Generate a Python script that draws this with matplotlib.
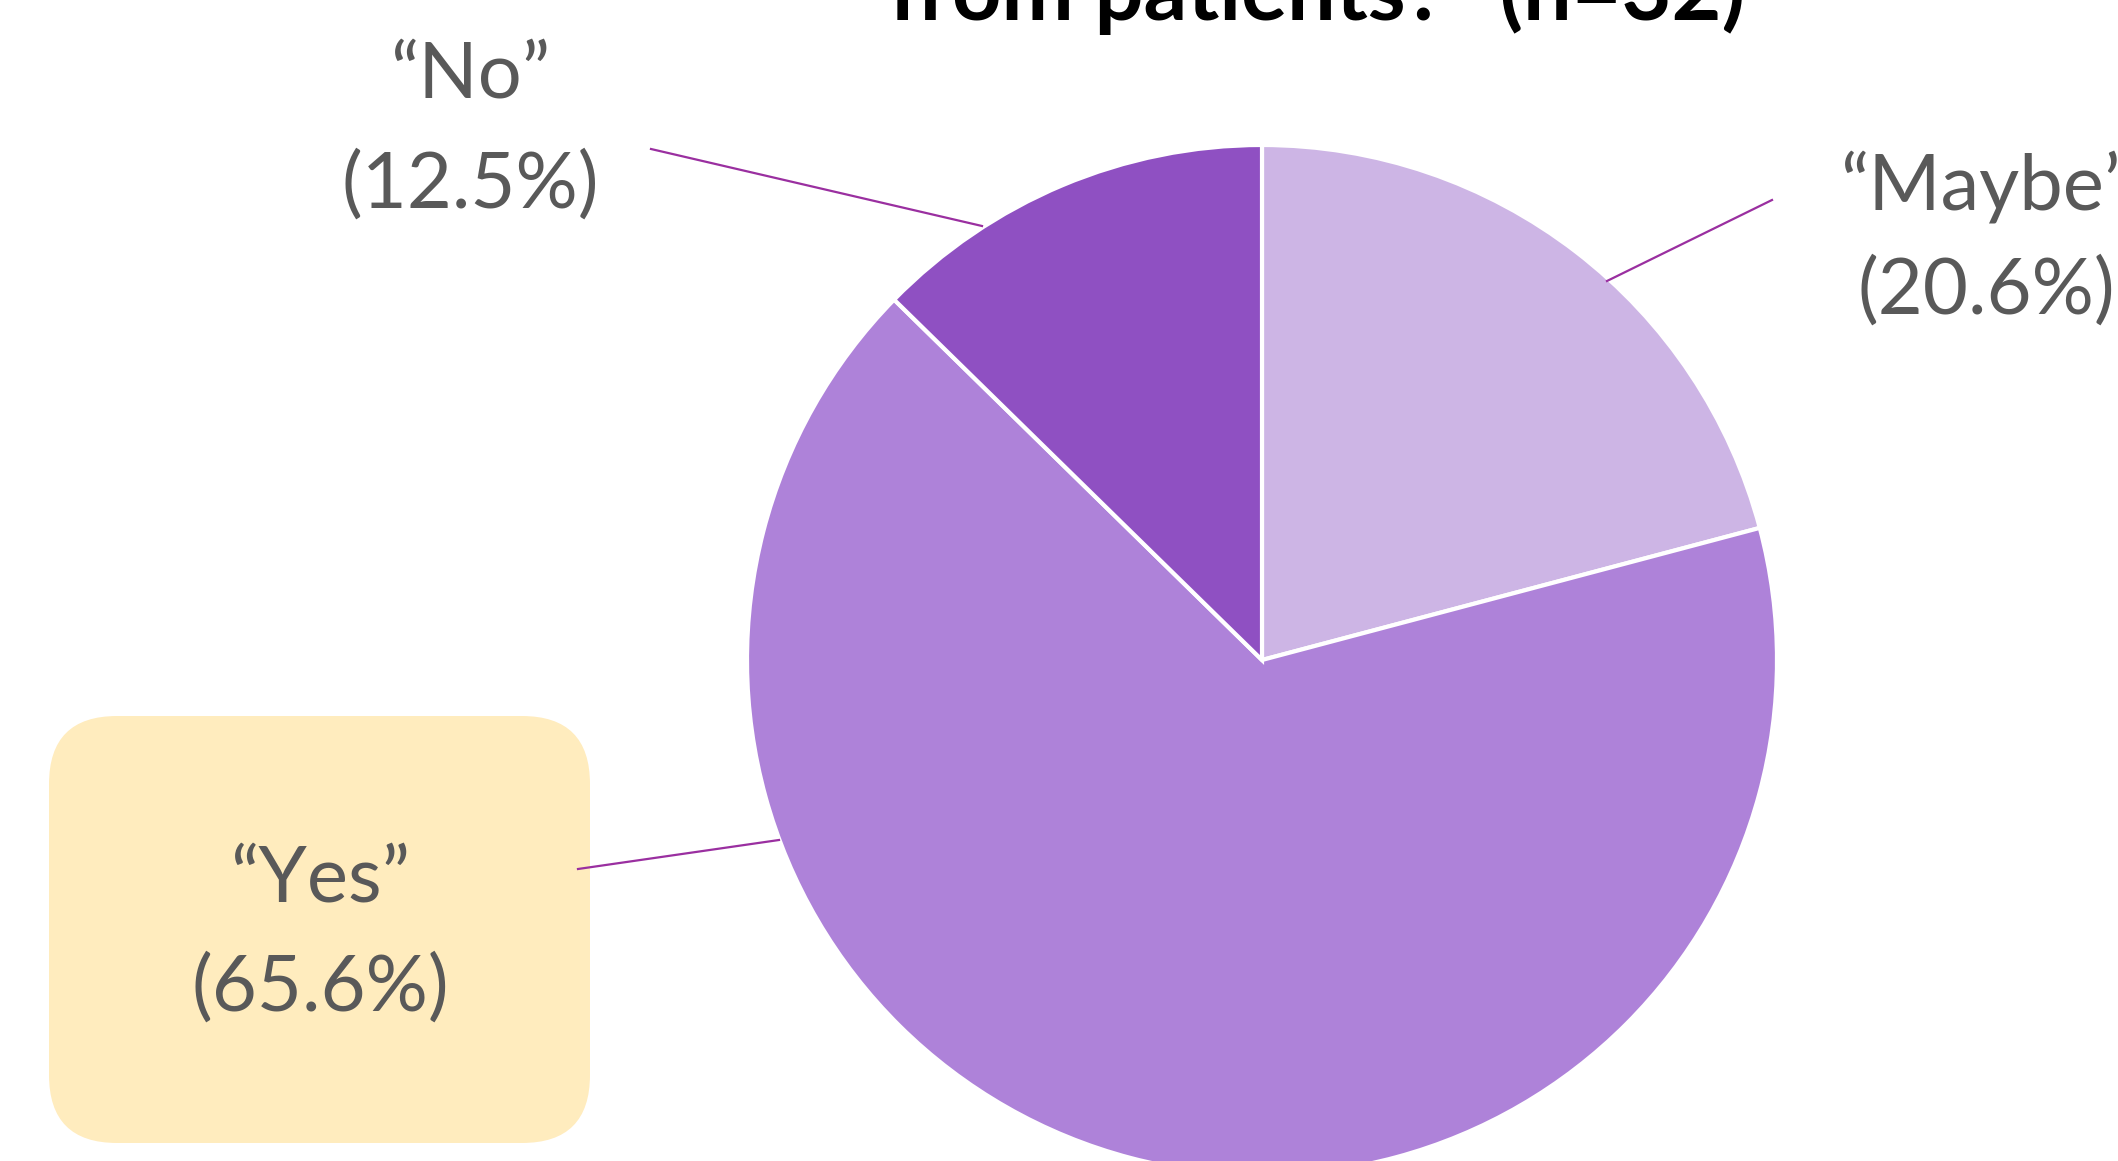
import matplotlib
matplotlib.use("Agg")
import matplotlib.pyplot as plt
from matplotlib.patches import FancyBboxPatch

# data
categories = ["Maybe", "Yes", "No"]
percents = [20.6, 65.6, 12.5]
colors = ["#CDB5E5", "#AE82D9", "#8F50C2"]
title = "from patients?\u201d (n=32)"

W, H = 2118, 1161
fig = plt.figure(figsize=(W / 100, H / 100), dpi=100)
ax = fig.add_axes([0, 0, 1, 1])

# pie, slices start at 12 o'clock and go clockwise
ax.pie(percents, colors=colors, startangle=90, counterclock=False,
       center=(1262, H - 660), radius=515,
       wedgeprops=dict(edgecolor="white", linewidth=3))

ax.set_xlim(0, W)
ax.set_ylim(0, H)
ax.set_aspect("equal")
ax.axis("off")

# label placement (pixel coords from top-left): name line, pct line, leader line
label_pos = {
    "Maybe": dict(x=1986, y1=187, y2=292, line=((1772, 200), (1607, 281))),
    "Yes": dict(x=320, y1=880, y2=989, line=((578, 869), (779, 840))),
    "No": dict(x=470, y1=76, y2=186, line=((651, 149), (982, 226))),
}

# yellow rounded box behind the "Yes" label
box = FancyBboxPatch((49, H - 1143), 541, 427,
                     boxstyle="round,pad=0,rounding_size=68",
                     facecolor="#FFECBE", edgecolor="none", zorder=1)
ax.add_patch(box)

txt_kw = dict(color="#595959", fontsize=56, family="Lato",
              ha="center", va="center", zorder=5)
for cat, pct in zip(categories, percents):
    p = label_pos[cat]
    ax.text(p["x"], H - p["y1"], "\u201c" + cat + "\u201d", **txt_kw)
    ax.text(p["x"], H - p["y2"], "(%.1f%%)" % pct, **txt_kw)
    (x0, y0), (x1, y1) = p["line"]
    ax.plot([x0, x1], [H - y0, H - y1], color="#9A2FA0", lw=1.6, zorder=4)

# title is cropped at the top edge in the source image
ax.text(1317, H - 20, title, fontsize=62, fontweight="bold", family="Lato",
        ha="center", va="baseline", color="black", zorder=5)

fig.savefig("out.png", dpi=100)
